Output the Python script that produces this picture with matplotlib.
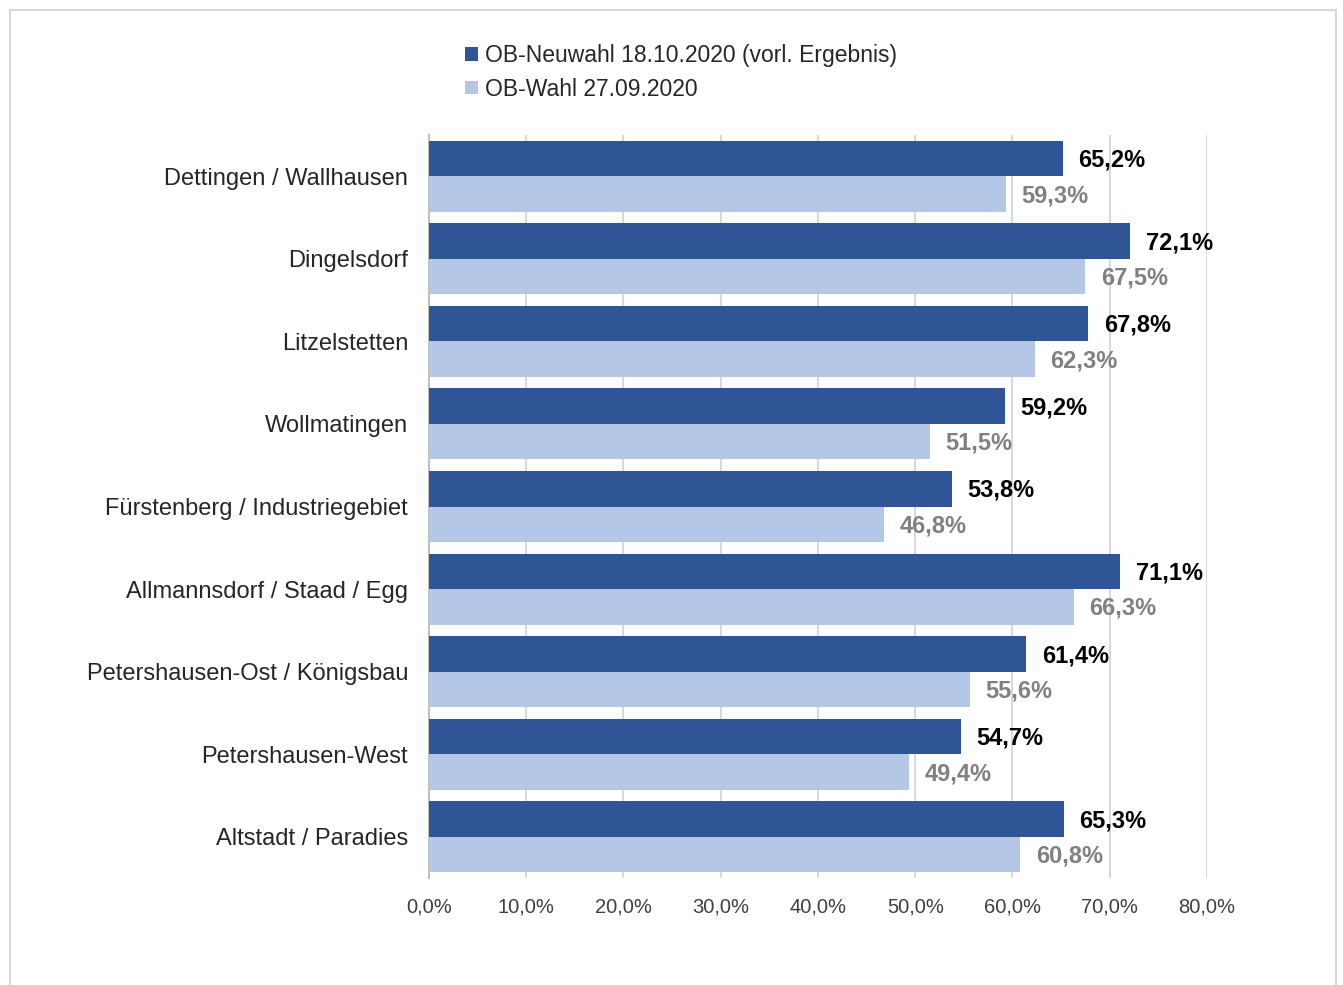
import numpy as np
import matplotlib.pyplot as plt
from matplotlib.patches import Rectangle

plt.rcParams['font.family'] = ['Liberation Sans', 'DejaVu Sans']

# Wahlbeteiligung nach Stadtteil
stadtteile = ["Dettingen / Wallhausen", "Dingelsdorf", "Litzelstetten", "Wollmatingen",
              "Fürstenberg / Industriegebiet", "Allmannsdorf / Staad / Egg",
              "Petershausen-Ost / Königsbau", "Petershausen-West", "Altstadt / Paradies"]
neuwahl = [65.2, 72.1, 67.8, 59.2, 53.8, 71.1, 61.4, 54.7, 65.3]
wahl = [59.3, 67.5, 62.3, 51.5, 46.8, 66.3, 55.6, 49.4, 60.8]
x_ticks = [0, 10, 20, 30, 40, 50, 60, 70, 80]

dark = "#2F5597"
light = "#B4C7E7"

fig = plt.figure(figsize=(13.43, 9.85), dpi=100)
ax = fig.add_axes([0.3194, 0.1086, 0.5793, 0.7543])

y = np.arange(len(stadtteile))
h = 0.43
ax.barh(y - h / 2, neuwahl, height=h, color=dark, label="OB-Neuwahl 18.10.2020 (vorl. Ergebnis)", zorder=3)
ax.barh(y + h / 2, wahl, height=h, color=light, label="OB-Wahl 27.09.2020", zorder=3)

for i in range(len(stadtteile)):
    ax.text(neuwahl[i] + 1.6, y[i] - h / 2 + 0.02, f"{neuwahl[i]:.1f}%".replace(".", ","),
            va="center", ha="left", fontsize=17, fontweight="bold", color="black")
    ax.text(wahl[i] + 1.6, y[i] + h / 2 + 0.02, f"{wahl[i]:.1f}%".replace(".", ","),
            va="center", ha="left", fontsize=17, fontweight="bold", color="#808080")

ax.set_ylim(len(stadtteile) - 0.5, -0.5)
ax.set_xlim(0, 80)
ax.set_yticks(y)
ax.set_yticklabels(stadtteile, fontsize=17, color="#262626")
ax.set_xticks(x_ticks)
ax.set_xticklabels([f"{t:.1f}%".replace(".", ",") for t in x_ticks], fontsize=14.5, color="#404040")
ax.tick_params(axis="y", length=0, pad=15)
ax.tick_params(axis="x", length=0, pad=14)
ax.grid(axis="x", color="#D9D9D9", linewidth=1.5, zorder=0)
for s in ["top", "right", "bottom"]:
    ax.spines[s].set_visible(False)
ax.spines["left"].set_color("#BFBFBF")
ax.spines["left"].set_linewidth(1.5)

fig.legend(loc="upper left", bbox_to_anchor=(0.331, 0.976), frameon=False, fontsize=16.5,
           handlelength=0.55, handleheight=0.55, handletextpad=0.3, labelspacing=0.45,
           labelcolor="#262626")

fig.patches.append(Rectangle((10 / 1343, -0.01), 1326 / 1343, 1 - 10 / 985 + 0.01,
                             transform=fig.transFigure, fill=False, edgecolor="#D9D9D9", linewidth=1.5))

fig.savefig("out.png", dpi=100)
